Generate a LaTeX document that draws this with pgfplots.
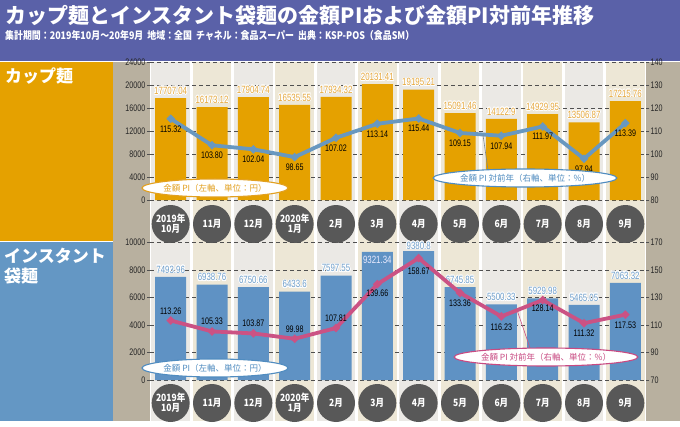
\documentclass[border=0pt]{standalone}
\usepackage{pgfplots}
\pgfplotsset{compat=1.18}
\usepackage{pgfplotstable}
\usepackage{fontspec}
\usepackage[copies]{contour}
\contourlength{0.7pt}
\usetikzlibrary{shapes.geometric}
\setmainfont{Liberation Sans}
\newfontfamily\jp{Noto Sans CJK JP}
\newfontfamily\jpc[FakeStretch=0.85]{Noto Sans CJK JP}
\newfontfamily\cond[FakeStretch=0.75]{Liberation Sans}

\definecolor{titlebg}{RGB}{90,97,168}
\definecolor{cuporange}{RGB}{229,161,0}
\definecolor{bagblue}{RGB}{95,146,196}
\definecolor{panelblue}{RGB}{100,151,196}
\definecolor{strip}{RGB}{184,176,159}
\definecolor{colA}{RGB}{235,233,229}
\definecolor{colB}{RGB}{237,231,214}
\definecolor{lineblue}{RGB}{104,152,192}
\definecolor{linepink}{RGB}{203,82,132}
\definecolor{lblorange}{RGB}{230,168,60}
\definecolor{lblblue}{RGB}{110,158,202}
\definecolor{circ}{RGB}{88,88,88}
\definecolor{gridc}{RGB}{80,80,80}
\definecolor{legblue}{RGB}{80,140,192}
\definecolor{legpink}{RGB}{200,74,130}
\definecolor{legorange}{RGB}{226,160,32}

\pgfplotstableread{
x val lab dy
0 17707.04 17707.04 7
1 16173.12 16173.12 7
2 17904.74 17904.74 7
3 16535.55 16535.55 7
4 17934.32 17934.32 7
5 20131.41 20131.41 7
6 19195.21 19195.21 7
7 15091.46 15091.46 7
8 14122.9 14122.9 7
9 14929.95 14929.95 7
10 13506.87 13506.87 7
11 17215.76 17215.76 7
}\cupbar

\pgfplotstableread{
x val lab dy
0 115.32 115.32 -10
1 103.80 103.80 -10
2 102.04 102.04 -10
3 98.65 98.65 -10
4 107.02 107.02 -10
5 113.14 113.14 -10
6 115.44 115.44 -10
7 109.15 109.15 -10
8 107.94 107.94 -10
9 111.97 111.97 -10
10 97.94 97.94 -10
11 113.39 113.39 -10
}\cupline

\pgfplotstableread{
x val lab dy
0 7493.96 7493.96 7
1 6938.76 6938.76 7
2 6750.66 6750.66 7
3 6433.6 6433.6 7
4 7597.55 7597.55 7
5 9321.34 {} 7
6 9380.8 9380.8 5
7 6745.85 6745.85 7
8 5500.33 5500.33 7
9 5929.98 5929.98 7
10 5465.05 5465.05 7
11 7063.32 7063.32 7
}\bagbar

\pgfplotstableread{
x val lab
5 9321.34 9321.34
}\bagbarin

\pgfplotstableread{
x val lab dy
0 113.26 113.26 9
1 105.33 105.33 10
2 103.87 103.87 10
3 99.98 99.98 10
4 107.81 107.81 10
5 139.66 139.66 -9
6 158.67 158.67 -13
7 133.36 133.36 -10
8 116.23 116.23 -11
9 128.14 128.14 -8
10 111.32 111.32 -10
11 117.53 117.53 -11
}\bagline

\pgfplotsset{
  base/.style={
    scale only axis, width=496pt, xmin=-0.5, xmax=11.5,
    axis line style={draw=none},
    ytick style={draw=gridc, line width=0.6pt},
    xtick style={draw=none},
    major tick length=3pt,
    tick align=outside,
    yticklabel style={font=\cond\fontsize{9.5}{10}\selectfont, text=black!85, inner sep=1.5pt},
    /pgf/number format/assume math mode=true,
    /pgf/number format/1000 sep={},
    scaled y ticks=false,
    clip=false,
  },
  months/.style={
    xtick={0,...,11},
    xticklabels={{2019年\\10月},11月,12月,{2020年\\1月},2月,3月,4月,5月,6月,7月,8月,9月},
    xticklabel style={circle, fill=circ, text=white, minimum size=38pt, inner sep=0pt,
      anchor=center, align=center, font=\jpc\bfseries\fontsize{10}{10}\selectfont, yshift=-#1},
  },
}

\begin{document}
\begin{tikzpicture}[x=1pt,y=1pt]
\path[use as bounding box] (0,0) rectangle (680,426);
\fill[white] (0,0) rectangle (680,426);
% title bar
\fill[titlebg] (0,365) rectangle (680,426);
\node[anchor=west, text=white, inner sep=0] at (5,410) {\jp\bfseries\fontsize{21}{21}\selectfont カップ麺とインスタント袋麺の金額PIおよび金額PI対前年推移};
\node[anchor=west, text=white, inner sep=0] at (5,390) {\jpc\bfseries\fontsize{10.5}{11}\selectfont 集計期間：2019年10月～20年9月\ \ 地域：全国\ \ チャネル：食品スーパー\ \ 出典：KSP-POS（食品SM）};
% side panels
\fill[cuporange] (0,185) rectangle (113,364);
\fill[panelblue] (0,5) rectangle (113,184);
\fill[strip] (113,5) rectangle (150,364);
\fill[strip] (646,5) rectangle (680,364);
\node[anchor=west, text=white, inner sep=0] at (5,350) {\jp\bfseries\fontsize{17}{17}\selectfont カップ麺};
\node[anchor=west, text=white, inner sep=0] at (4,170) {\jp\bfseries\fontsize{17}{17}\selectfont インスタント};
\node[anchor=west, text=white, inner sep=0] at (4,150) {\jp\bfseries\fontsize{17}{17}\selectfont 袋麺};
% background columns
\foreach \i in {0,2,...,10} {
  \fill[colA] ({150+41.333*\i+1.2},5) rectangle ({150+41.333*(\i+1)-1.2},364);
}
\foreach \i in {1,3,...,11} {
  \fill[colB] ({150+41.333*\i+1.2},5) rectangle ({150+41.333*(\i+1)-1.2},364);
}

% ===== upper: cup noodles =====
\begin{axis}[base, months=21pt, at={(150pt,226pt)}, anchor=south west, height=138pt,
  ymin=0, ymax=24000, ytick={0,4000,...,24000}, ytick pos=left,
  ymajorgrids, grid style={gridc, dashed, line width=0.6pt, dash pattern=on 4pt off 3pt}]
\addplot[ybar, bar width=31pt, bar shift=0pt, fill=cuporange, draw=none,
  nodes near coords={\contour{white}{\pgfplotspointmeta}}, point meta=explicit symbolic,
  visualization depends on={\thisrow{dy}\as\labdy},
  every node near coord/.append style={anchor=center, yshift=\labdy pt,
    font=\cond\fontsize{10.5}{10}\selectfont, text=lblorange, inner sep=0.5pt}]
  table[x=x, y=val, meta=lab]{\cupbar};
\end{axis}
\begin{axis}[base, at={(150pt,226pt)}, anchor=south west, height=138pt,
  ymin=80, ymax=140, ytick={80,90,...,140}, ytick pos=right, xtick=\empty]
\addplot[lineblue, line width=3.8pt, mark=*, mark size=1.7pt,
  mark options={fill=white, draw=none},
  nodes near coords, point meta=explicit symbolic,
  visualization depends on={\thisrow{dy}\as\labdy},
  every node near coord/.append style={anchor=center, yshift=\labdy pt,
    font=\cond\fontsize{9.5}{10}\selectfont, text=black, inner sep=0.5pt}]
  table[x=x, y=val, meta=lab]{\cupline};
\end{axis}

% ===== lower: instant bag noodles =====
\begin{axis}[base, months=20pt, at={(150pt,46pt)}, anchor=south west, height=137.5pt,
  ymin=0, ymax=10000, ytick={0,2000,...,10000}, ytick pos=left,
  ymajorgrids, grid style={gridc, dashed, line width=0.6pt, dash pattern=on 4pt off 3pt}]
\addplot[ybar, bar width=31pt, bar shift=0pt, fill=bagblue, draw=none,
  nodes near coords={\contour{white}{\pgfplotspointmeta}}, point meta=explicit symbolic,
  visualization depends on={\thisrow{dy}\as\labdy},
  every node near coord/.append style={anchor=center, yshift=\labdy pt,
    font=\cond\fontsize{10.5}{10}\selectfont, text=lblblue, inner sep=0.5pt}]
  table[x=x, y=val, meta=lab]{\bagbar};
\addplot[ybar, bar width=31pt, bar shift=0pt, fill=none, draw=none,
  nodes near coords, point meta=explicit symbolic,
  every node near coord/.append style={anchor=center, yshift=-8pt,
    font=\cond\fontsize{10.5}{10}\selectfont, text=white!92!blue, inner sep=0.5pt}]
  table[x=x, y=val, meta=lab]{\bagbarin};
\end{axis}
\begin{axis}[base, at={(150pt,46pt)}, anchor=south west, height=137.5pt,
  ymin=70, ymax=170, ytick={70,90,...,170}, ytick pos=right, xtick=\empty]
\addplot[linepink, line width=3.8pt, mark=*, mark size=1.7pt,
  mark options={fill=white, draw=none},
  nodes near coords, point meta=explicit symbolic,
  visualization depends on={\thisrow{dy}\as\labdy},
  every node near coord/.append style={anchor=center, yshift=\labdy pt,
    font=\cond\fontsize{9.5}{10}\selectfont, text=black, inner sep=0.5pt}]
  table[x=x, y=val, meta=lab]{\bagline};
\end{axis}

% ===== callouts =====
\draw[gray!70!lineblue, line width=0.6pt] (483,291) -- (488,256);
\draw[linepink, line width=0.6pt] (517,116) -- (530,78);
\node[ellipse, draw=legorange, line width=1.1pt, fill=white, minimum width=125pt, minimum height=18pt, inner sep=0pt, text=legorange]
  at (215,238) {\jp\fontsize{8.5}{9}\selectfont 金額 PI（左軸、単位：円）};
\node[ellipse, draw=legblue, line width=1.1pt, fill=white, minimum width=150pt, minimum height=18pt, inner sep=0pt, text=legblue]
  at (525,248) {\jp\fontsize{8.5}{9}\selectfont 金額 PI 対前年（右軸、単位：\%）};
\node[ellipse, draw=legblue, line width=1.1pt, fill=white, minimum width=125pt, minimum height=18pt, inner sep=0pt, text=legblue]
  at (215,58) {\jp\fontsize{8.5}{9}\selectfont 金額 PI（左軸、単位：円）};
\node[ellipse, draw=legpink, line width=1.1pt, fill=white, minimum width=145pt, minimum height=18pt, inner sep=0pt, text=legpink]
  at (546,69) {\jp\fontsize{8.5}{9}\selectfont 金額 PI 対前年（右軸、単位：\%）};
\end{tikzpicture}
\end{document}
